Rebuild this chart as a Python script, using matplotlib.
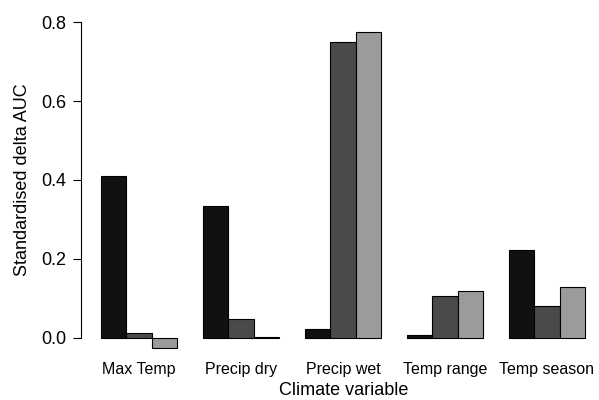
import numpy as np
import matplotlib.pyplot as plt

plt.rcParams['font.family'] = ['Liberation Sans', 'DejaVu Sans']

categories = ['Max Temp', 'Precip dry', 'Precip wet', 'Temp range', 'Temp season']
series_1 = [0.41, 0.335, 0.022, 0.008, 0.222]
series_2 = [0.013, 0.048, 0.75, 0.107, 0.082]
series_3 = [-0.025, 0.002, 0.775, 0.12, 0.13]
colors = ['#111111', '#4a4a4a', '#9b9b9b']

fig = plt.figure(figsize=(5.99, 4.0), dpi=100)
ax = fig.add_axes([0.136, 0.1235, 0.873, 0.853])

# R style barplot with beside=TRUE, space=c(0,1)
group_left = 1 + 4 * np.arange(len(categories))
for i, vals in enumerate([series_1, series_2, series_3]):
    ax.bar(group_left + i, vals, width=1.0, align='edge', color=colors[i],
           edgecolor='black', linewidth=0.8, clip_on=False)

ax.set_xlim(0.24, 20.76)
ax.set_ylim(-0.032, 0.832)
ax.set_xticks(group_left + 1.5)
ax.set_xticklabels(categories, fontsize=11.5)
ax.tick_params(axis='x', length=0, pad=8)
ax.set_yticks([0.0, 0.2, 0.4, 0.6, 0.8])
ax.set_yticklabels(['0.0', '0.2', '0.4', '0.6', '0.8'], fontsize=13)
ax.tick_params(axis='y', length=6, width=0.8, pad=5)
for s in ['top', 'right', 'bottom']:
    ax.spines[s].set_visible(False)
ax.spines['left'].set_bounds(0, 0.8)
ax.spines['left'].set_linewidth(0.8)
ax.set_xlabel('Climate variable', fontsize=13)
ax.xaxis.set_label_coords(0.502, -0.092)
ax.set_ylabel('Standardised delta AUC', fontsize=13, labelpad=7)

plt.savefig('out.png', dpi=100)
